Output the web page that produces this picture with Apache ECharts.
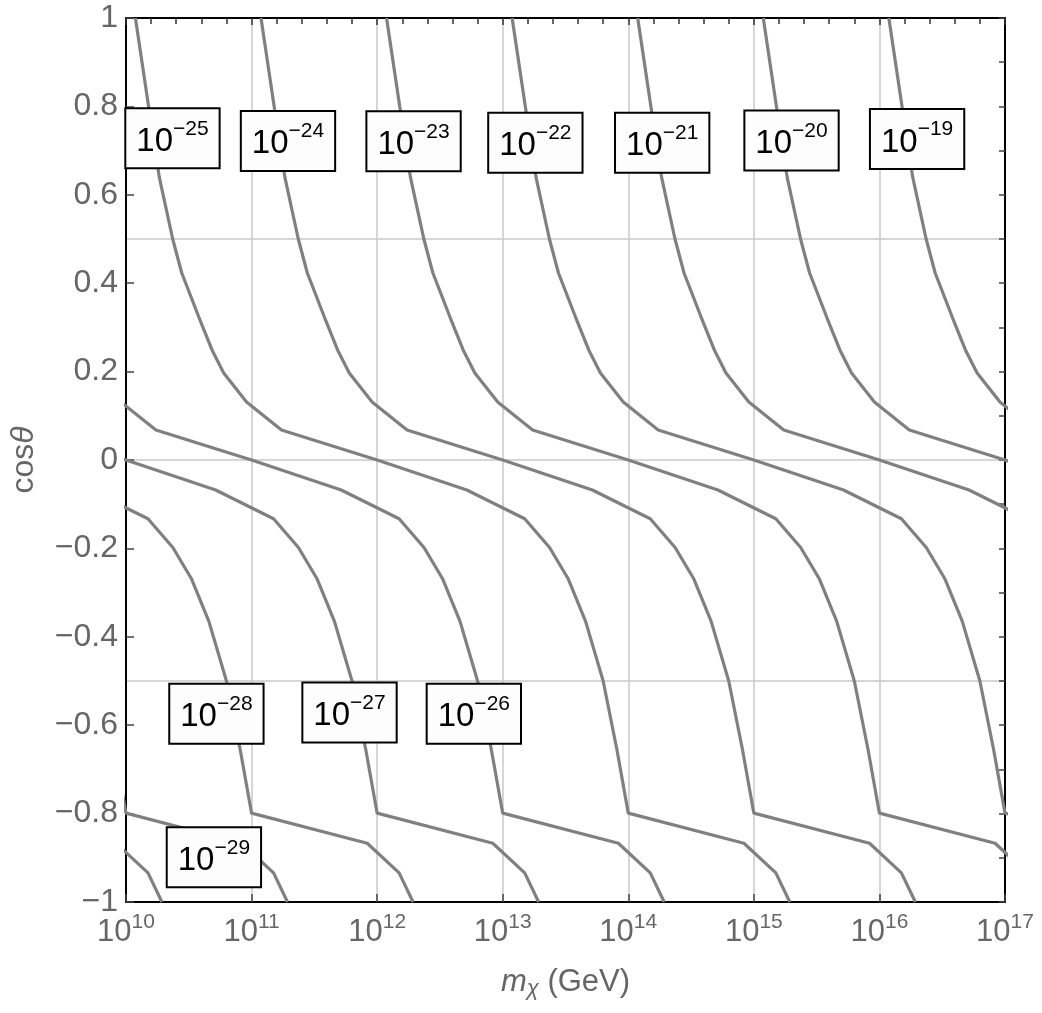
<!DOCTYPE html>
<html>
<head>
<meta charset="utf-8">
<script src="https://cdn.jsdelivr.net/npm/echarts@6/dist/echarts.min.js"></script>
<style>
    html, body { margin: 0; padding: 0; background: #fff; }
    #chart { width: 1042px; height: 1013px; }
</style>
</head>
<body>
<div id="chart"></div>
<script>
// contour levels (power of ten) and log10(m) where each one crosses cos(theta) = 0
const levels = [-30, -29, -28, -27, -26, -25, -24, -23, -22, -21, -20, -19];
const zeroCrossLogM = [7, 8, 9, 10, 11, 12, 13, 14, 15, 16, 17, 18];

// one contour's shape: log10(m) counted from its zero crossing, and cos(theta)
const shapeDLogM = [-1.925, -1.82, -1.735, -1.628, -1.556, -1.421, -1.315, -1.222, -1.04, -0.762, 0,
    0.714, 1.175, 1.373, 1.52, 1.66, 1.80, 1.91, 2.0, 2.921, 3.175, 3.286];
const shapeCos = [1.0, 0.80, 0.64, 0.50, 0.423, 0.324, 0.249, 0.197, 0.131, 0.068, 0,
    -0.068, -0.133, -0.198, -0.268, -0.365, -0.50, -0.656, -0.799, -0.867, -0.934, -1.0];

// boxed level labels
const labelExp = [-25, -24, -23, -22, -21, -20, -19, -28, -27, -26, -29];
const labelLogM = [10.37, 11.29, 12.29, 13.26, 14.27, 15.30, 16.30, 10.72, 11.78, 12.77, 10.70];
const labelCos = [0.728, 0.722, 0.721, 0.718, 0.718, 0.723, 0.726, -0.574, -0.571, -0.574, -0.899];

const FONT = '"Liberation Sans", Arial, sans-serif';
const GRAY = '#666';
const MINUS = '\u2212';

let chart = echarts.init(document.getElementById('chart'));

let series = levels.map((lev, k) => ({
    name: '1e' + lev,
    type: 'line',
    xAxisIndex: 0,
    yAxisIndex: 0,
    symbol: 'none',
    clip: true,
    lineStyle: { color: '#808080', width: 3.2 },
    data: shapeDLogM.map((d, i) => [Math.pow(10, zeroCrossLogM[k] + d), shapeCos[i]])
}));

series.push({
    type: 'scatter',
    xAxisIndex: 0,
    yAxisIndex: 0,
    z: 5,
    symbolSize: 1,
    itemStyle: { color: 'rgba(0,0,0,0)', opacity: 1 },
    data: labelLogM.map((lm, i) => [Math.pow(10, lm), labelCos[i]]),
    label: {
        show: true,
        position: 'inside',
        color: '#000',
        opacity: 1,
        textBorderWidth: 0,
        formatter: p => '{b|10}{s|' + MINUS + Math.abs(labelExp[p.dataIndex]) + '}',
        backgroundColor: '#fdfdfd',
        borderColor: '#000',
        borderWidth: 2,
        padding: [9, 10, 9, 10],
        rich: {
            b: { fontFamily: FONT, fontSize: 33, color: '#000', lineHeight: 40, verticalAlign: 'bottom' },
            s: { fontFamily: FONT, fontSize: 21, color: '#000', lineHeight: 24, verticalAlign: 'top' }
        }
    }
});

function yLabel(v) {
    let r = Math.round(v * 10) / 10;
    if (r === 0) return '0';
    return (r < 0 ? MINUS : '') + Math.abs(r);
}

chart.setOption({
    animation: false,
    backgroundColor: '#fff',
    grid: { left: 123, right: 37, top: 18, bottom: 111 },
    xAxis: [{
        type: 'log',
        logBase: 10,
        min: 1e10,
        max: 1e17,
        splitNumber: 7,
        position: 'bottom',
        name: '{i|m}{u|\u03c7}{n| (GeV)}',
        nameLocation: 'middle',
        nameGap: 62,
        nameTextStyle: {
            rich: {
                i: { fontFamily: FONT, fontSize: 31, fontStyle: 'italic', color: GRAY, lineHeight: 36 },
                u: { fontFamily: FONT, fontSize: 22, fontStyle: 'italic', color: GRAY, lineHeight: 24, verticalAlign: 'bottom' },
                n: { fontFamily: FONT, fontSize: 31, color: GRAY, lineHeight: 36 }
            }
        },
        axisLine: { show: true, onZero: false, lineStyle: { color: '#000', width: 2 } },
        axisTick: { show: true, inside: true, length: 8, lineStyle: { color: '#444', width: 1.5 } },
        axisLabel: {
            margin: 10,
            hideOverlap: false,
            showMinLabel: true,
            showMaxLabel: true,
            formatter: v => '{b|10}{s|' + Math.round(Math.log10(v)) + '}',
            rich: {
                b: { fontFamily: FONT, fontSize: 31, color: GRAY, lineHeight: 36, verticalAlign: 'bottom' },
                s: { fontFamily: FONT, fontSize: 21, color: GRAY, lineHeight: 22, verticalAlign: 'top' }
            }
        },
        splitLine: { show: true, lineStyle: { color: '#c8c8c8', width: 1.5 } }
    }, {
        type: 'value',
        min: 10,
        max: 17,
        interval: 1,
        position: 'top',
        axisLine: { show: true, onZero: false, lineStyle: { color: '#000', width: 2 } },
        axisTick: { show: true, inside: true, length: 7, lineStyle: { color: '#333', width: 1.5 } },
        minorTick: { show: true, splitNumber: 5, length: 6, lineStyle: { color: '#333', width: 1.5 } },
        axisLabel: { show: false },
        splitLine: { show: false }
    }],
    yAxis: [{
        type: 'value',
        min: -1,
        max: 1,
        interval: 0.2,
        position: 'left',
        name: '{n|cos}{i|\u03b8}',
        nameLocation: 'middle',
        nameGap: 86,
        nameTextStyle: {
            rich: {
                n: { fontFamily: FONT, fontSize: 32, color: GRAY },
                i: { fontFamily: FONT, fontSize: 32, fontStyle: 'italic', color: GRAY }
            }
        },
        axisLine: { show: true, onZero: false, lineStyle: { color: '#000', width: 2 } },
        axisTick: { show: true, inside: true, length: 8, lineStyle: { color: '#444', width: 1.5 } },
        axisLabel: {
            margin: 8,
            fontFamily: FONT,
            fontSize: 32,
            color: GRAY,
            showMinLabel: true,
            showMaxLabel: true,
            formatter: yLabel
        },
        splitLine: { show: false }
    }, {
        type: 'value',
        min: -1,
        max: 1,
        interval: 0.1,
        position: 'right',
        axisLine: { show: true, onZero: false, lineStyle: { color: '#000', width: 2 } },
        axisTick: { show: true, inside: true, length: 6, lineStyle: { color: '#444', width: 1.5 } },
        axisLabel: { show: false },
        splitLine: { show: false }
    }, {
        type: 'value',
        min: -1,
        max: 1,
        interval: 0.5,
        position: 'left',
        axisLine: { show: false, onZero: false },
        axisTick: { show: false },
        axisLabel: { show: false },
        splitLine: { show: true, lineStyle: { color: '#c8c8c8', width: 1.5 } }
    }],
    series: series
});
</script>
</body>
</html>
